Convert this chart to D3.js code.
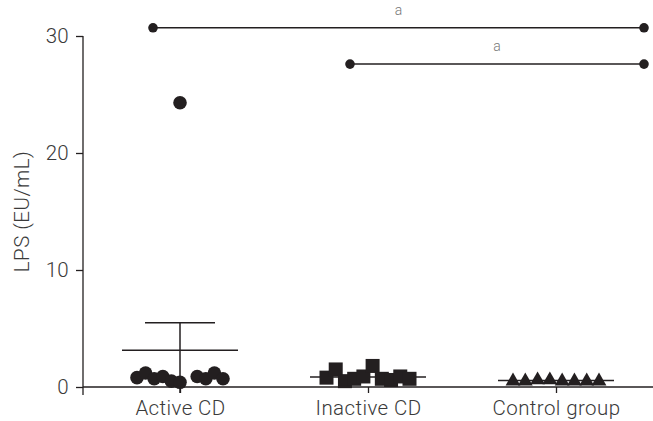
<!DOCTYPE html>
<html>
<head>
<meta charset="utf-8">
<script src="https://cdn.jsdelivr.net/npm/d3@7"></script>
<style>
  body { margin: 0; background: #fff; }
  svg text { font-family: Roboto, "Liberation Sans", sans-serif; font-weight: 300; fill: #3a3a3a; }
</style>
</head>
<body>
<div id="chart"></div>
<script>
const groups = ["Active CD", "Inactive CD", "Control group"];
const activeCD = [0.8, 1.2, 0.7, 0.9, 0.5, 0.4, 24.3, 0.9, 0.7, 1.2, 0.7];
const inactiveCD = [0.8, 1.5, 0.5, 0.7, 0.9, 1.8, 0.7, 0.6, 0.9, 0.7];
const controlGroup = [0.5, 0.5, 0.6, 0.6, 0.5, 0.5, 0.5, 0.5];
const groupMeans = [3.15, 0.85, 0.55];
const groupErr = [2.35, 0, 0];
const yTicks = [0, 10, 20, 30];
const sigBars = [
  { from: "Active CD", to: "Control group", value: 30.7, label: "a" },
  { from: "Inactive CD", to: "Control group", value: 27.6, label: "a" }
];

const W = 653, H = 421;
const margin = { top: 36, right: 0, bottom: 34, left: 83 };
const ink = "#231f20";
const fontSize = "20.5px";

const svg = d3.select("#chart").append("svg")
  .attr("width", W).attr("height", H);

const x = d3.scalePoint().domain(groups).range([180, 556]);
const y = d3.scaleLinear().domain([0, 30]).range([H - margin.bottom, margin.top]);

// y axis
const yAxis = svg.append("g")
  .attr("transform", `translate(${margin.left},0)`)
  .call(d3.axisLeft(y).tickValues(yTicks).tickSize(7).tickPadding(7));
yAxis.select(".domain").attr("d", `M0,${y(30)}V${y(0) + 8}`);
yAxis.selectAll("line, .domain").attr("stroke", ink).attr("stroke-width", 1.3);
yAxis.selectAll("text").style("font-size", fontSize).style("letter-spacing", "0.3px");

// x axis
const xAxis = svg.append("g")
  .attr("transform", `translate(0,${y(0)})`)
  .call(d3.axisBottom(x).tickSize(6).tickPadding(6));
xAxis.select(".domain").attr("d", `M${margin.left},0H${W}`);
xAxis.selectAll("line, .domain").attr("stroke", ink).attr("stroke-width", 1.3);
xAxis.selectAll("text").style("font-size", fontSize).style("letter-spacing", "0.4px")
  .attr("y", 28).attr("dy", 0);

svg.append("text")
  .attr("transform", `translate(29,${(y(0) + y(30)) / 2}) rotate(-90)`)
  .attr("text-anchor", "middle")
  .style("font-size", fontSize).style("letter-spacing", "0.5px")
  .text("LPS (EU/mL)");

// mean and error lines
groups.forEach((g, i) => {
  const cx = x(g);
  svg.append("line").attr("x1", cx - 58).attr("x2", cx + 58)
    .attr("y1", y(groupMeans[i])).attr("y2", y(groupMeans[i]))
    .attr("stroke", ink).attr("stroke-width", 1.5);
  if (groupErr[i] > 0) {
    svg.append("line").attr("x1", cx).attr("x2", cx)
      .attr("y1", y(groupMeans[i] + groupErr[i])).attr("y2", y(0) + 6)
      .attr("stroke", ink).attr("stroke-width", 1.5);
    svg.append("line").attr("x1", cx - 35).attr("x2", cx + 35)
      .attr("y1", y(groupMeans[i] + groupErr[i])).attr("y2", y(groupMeans[i] + groupErr[i]))
      .attr("stroke", ink).attr("stroke-width", 1.5);
  }
});

// points spread around each group centre
function spread(vals, g, width) {
  const s = d3.scalePoint().domain(d3.range(vals.length)).range([x(g) - width / 2, x(g) + width / 2]);
  return vals.map((v, i) => ({ cx: s(i), cy: y(v) }));
}

const actPts = spread(activeCD, "Active CD", 86);
actPts[6].cx = x("Active CD");
svg.append("g").selectAll("circle").data(actPts).join("circle")
  .attr("cx", d => d.cx).attr("cy", d => d.cy).attr("r", 6.8).attr("fill", ink);

svg.append("g").selectAll("rect").data(spread(inactiveCD, "Inactive CD", 83)).join("rect")
  .attr("x", d => d.cx - 7).attr("y", d => d.cy - 7)
  .attr("width", 14).attr("height", 14).attr("fill", ink);

const tri = d3.symbol().type(d3.symbolTriangle).size(95);
svg.append("g").selectAll("path").data(spread(controlGroup, "Control group", 86)).join("path")
  .attr("transform", d => `translate(${d.cx},${d.cy})`)
  .attr("d", tri).attr("fill", ink);

// significance bars
const sigOffset = { "Active CD": -27, "Inactive CD": -18, "Control group": 88 };
sigBars.forEach(b => {
  const x1 = x(b.from) + sigOffset[b.from], x2 = x(b.to) + sigOffset[b.to], yy = y(b.value);
  svg.append("line").attr("x1", x1).attr("x2", x2).attr("y1", yy).attr("y2", yy)
    .attr("stroke", ink).attr("stroke-width", 1.5);
  svg.selectAll(null).data([x1, x2]).enter().append("circle")
    .attr("cx", d => d).attr("cy", yy).attr("r", 4.8).attr("fill", ink);
  svg.append("text").attr("x", (x1 + x2) / 2).attr("y", yy - 13)
    .attr("text-anchor", "middle").style("font-size", "14px").style("fill", "#777")
    .text(b.label);
});
</script>
</body>
</html>
